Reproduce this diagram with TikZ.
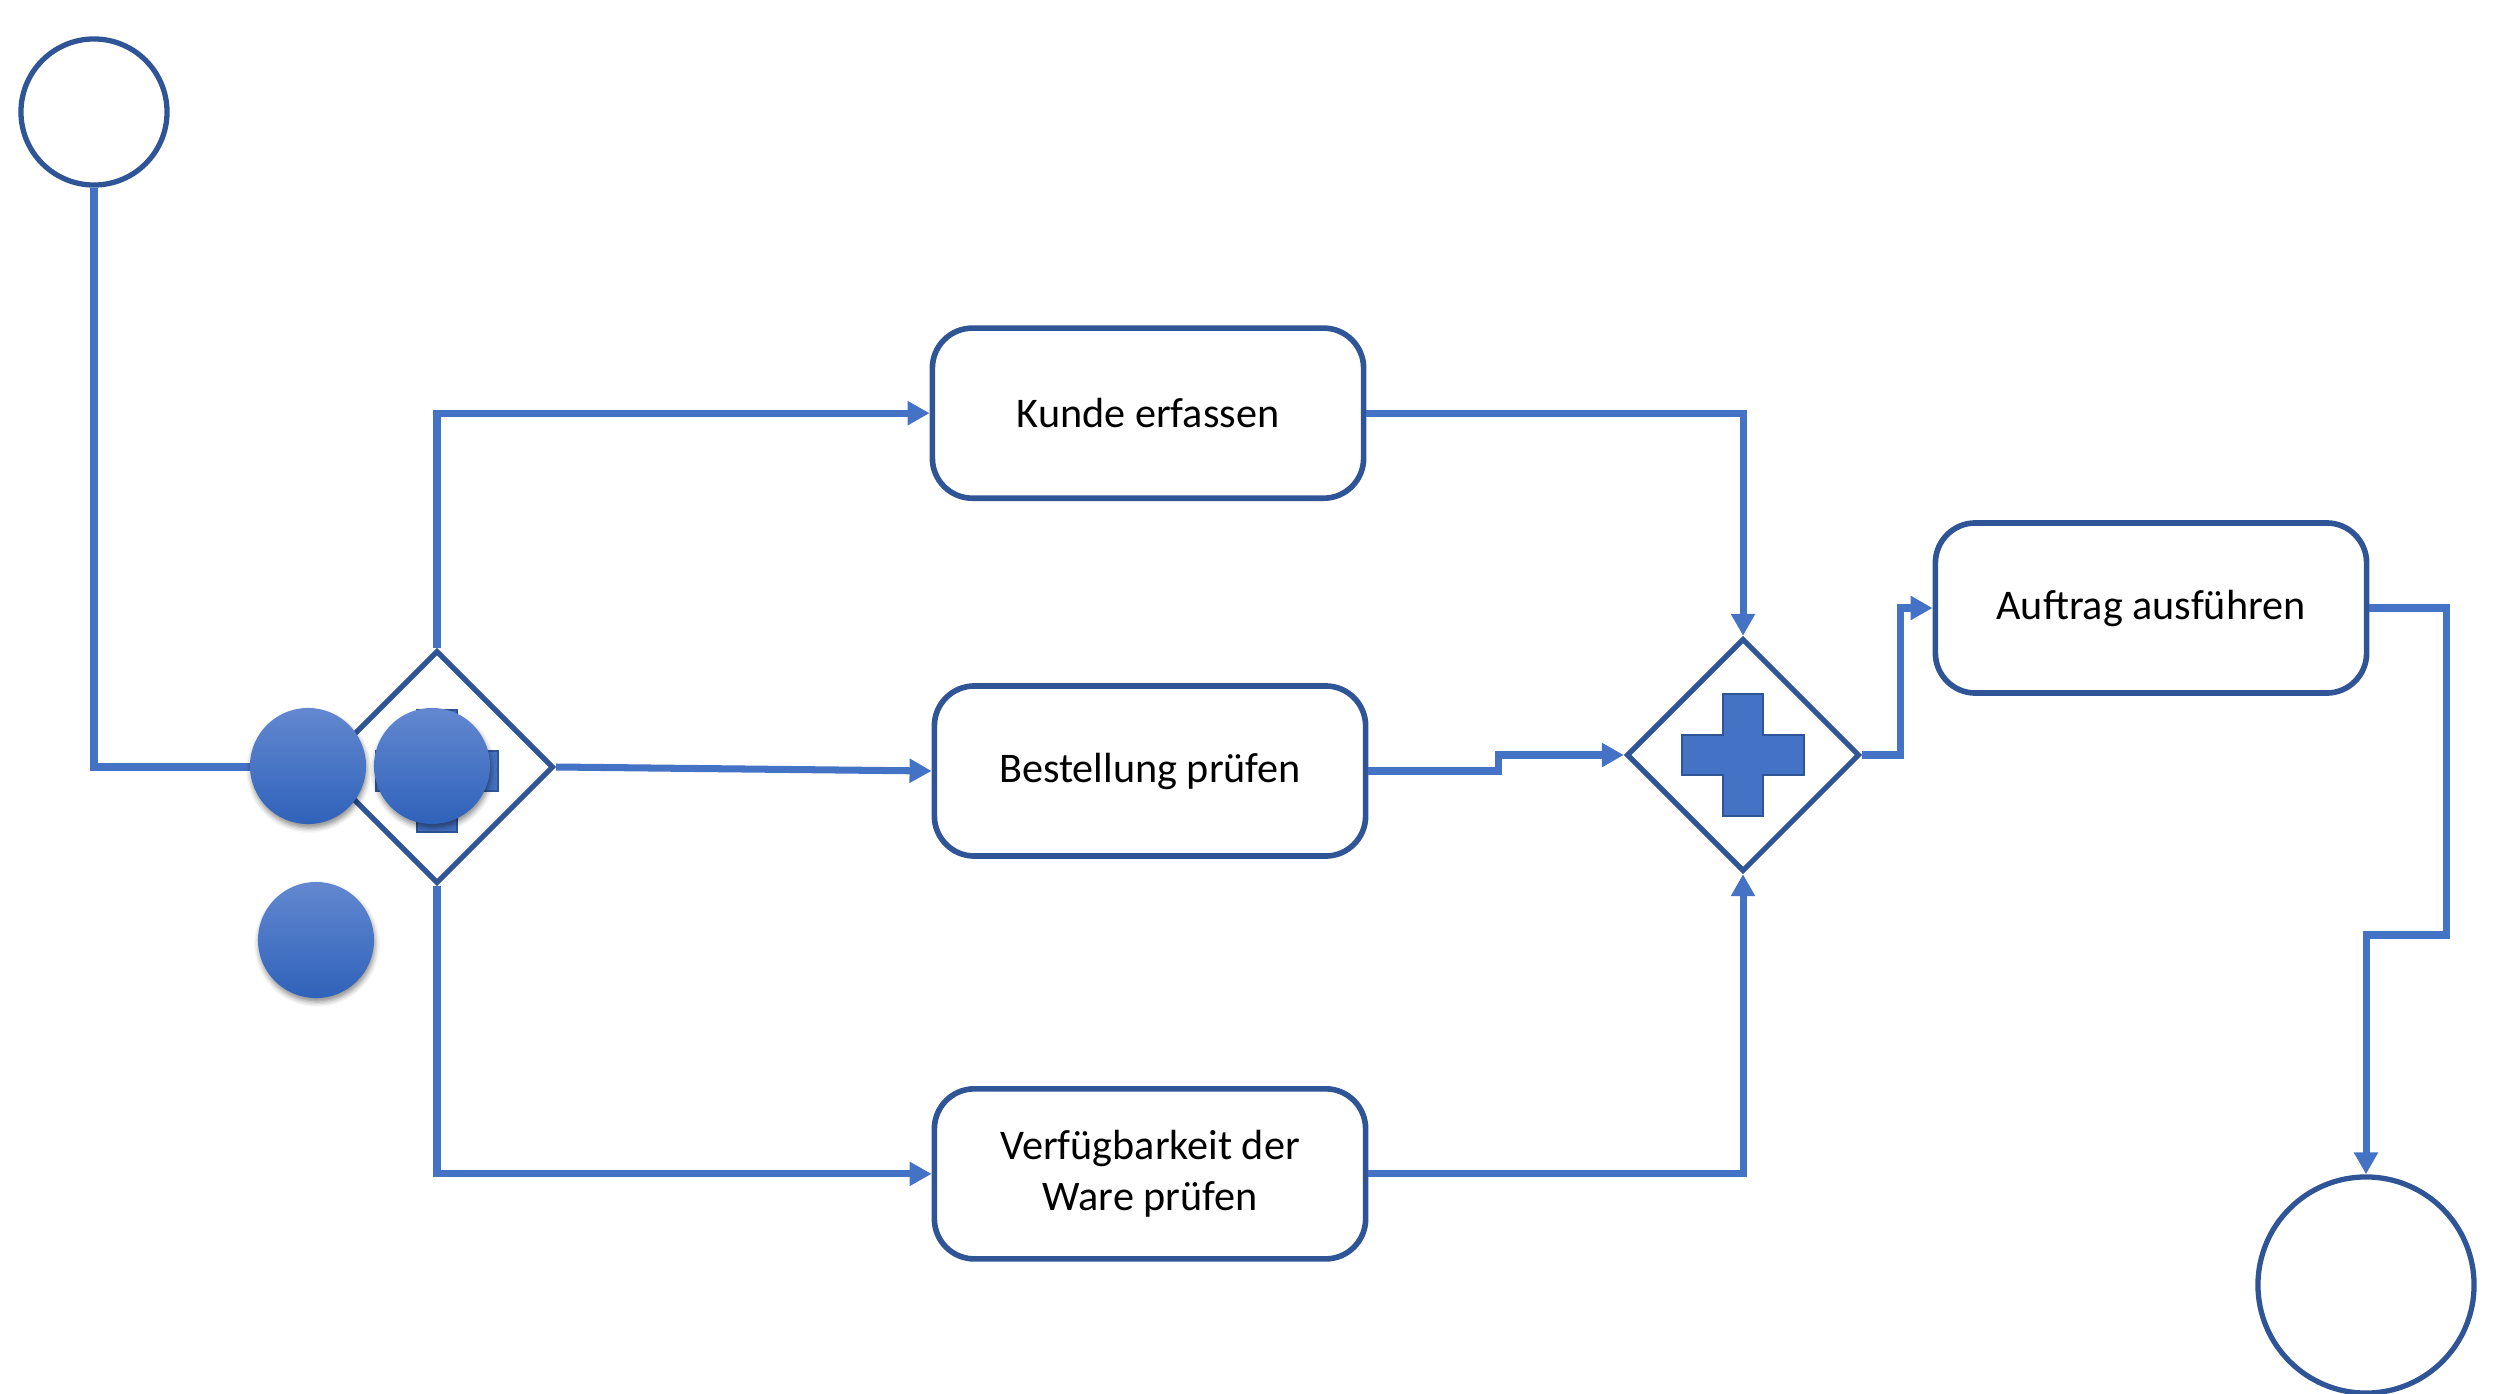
\documentclass[tikz,border=0pt]{standalone}
\usepackage{fontspec}
\setmainfont{Carlito}
\usepackage{tikz}
\usetikzlibrary{arrows.meta,positioning,shapes.geometric,shadows.blur}
\definecolor{flowblue}{HTML}{4472C4}
\definecolor{edgeblue}{HTML}{2F5597}
\definecolor{balltop}{HTML}{6388D0}
\definecolor{ballbot}{HTML}{2F62BA}

\begin{document}
\begin{tikzpicture}[
        x=0.01cm,y=-0.01cm,
        event/.style={circle,draw=edgeblue,line width=1.5pt,inner sep=0pt},
        gate/.style={diamond,draw=edgeblue,line width=1.5pt,minimum width=2.33cm,minimum height=2.33cm,inner sep=0pt},
        task/.style={draw=edgeblue,line width=1.6pt,rounded corners=0.4cm,minimum width=4.31cm,minimum height=1.70cm,
          align=center,font=\fontsize{12pt}{14.5pt}\selectfont},
        plusmark/.style={fill=flowblue,draw=edgeblue,line width=0.5pt},
        ball/.style={circle,minimum size=1.16cm,inner sep=0pt,top color=balltop,bottom color=ballbot,
          blur shadow={shadow xshift=0.01cm,shadow yshift=-0.04cm,shadow blur radius=0.05cm,shadow opacity=45}},
        flow/.style={-{Triangle[length=0.22cm,width=0.23cm]},draw=flowblue,line width=2pt}
      ]
      \useasboundingbox (0,0) rectangle (2503,1394);

      \node[event,minimum size=1.46cm] (start) at (94,112) {};
      \node[event,minimum size=2.16cm] (end) at (2366,1285) {};

      \node[gate] (gwL) at (437,767) {};
      \node[gate] (gwR) at (1743,755) {};

      \node[task] (best) at (1150,771) {Bestellung prüfen};
      \node[task,above=1.82cm of best,xshift=-0.02cm] (kunde) {Kunde erfassen};
      \node[task,below=2.27cm of best] (verf) {Verfügbarkeit der\\Ware prüfen};
      \node[task] (auft) at (2151,608) {Auftrag ausführen};

      \draw[flow] (start) |- (gwL.west);
      \draw[flow] (gwL.north) |- (kunde.west);
      \draw[flow] (gwL.east) -- (best.west);
      \draw[flow] (gwL.south) |- (verf.west);
      \draw[flow] (kunde.east) -| (gwR.north);
      \draw[flow] (best.east) -- ++(130,0) |- (gwR.west);
      \draw[flow] (verf.east) -| (gwR.south);
      \draw[flow] (gwR.east) -- ++(38,0) |- (auft.west);
      \draw[flow] (auft.east) -- ++(77,0) -- ++(0,327) -| (end.north);

      % plus markers of the parallel gateways
      \foreach \g/\dy in {gwL/-4,gwR/0}
        \draw[plusmark,shift={(\g.center)},yshift=\dy*0.01cm]
          (-20,-61) -- (20,-61) -- (20,-20) -- (61,-20) -- (61,20) -- (20,20) -- (20,61)
          -- (-20,61) -- (-20,20) -- (-61,20) -- (-61,-20) -- (-20,-20) -- cycle;

      \node[ball] (ballA) at (308,766) {};
      \node[ball] (ballB) at (432,766) {};
      \node[ball] (ballC) at (316,940) {};
    \end{tikzpicture}
\end{document}
